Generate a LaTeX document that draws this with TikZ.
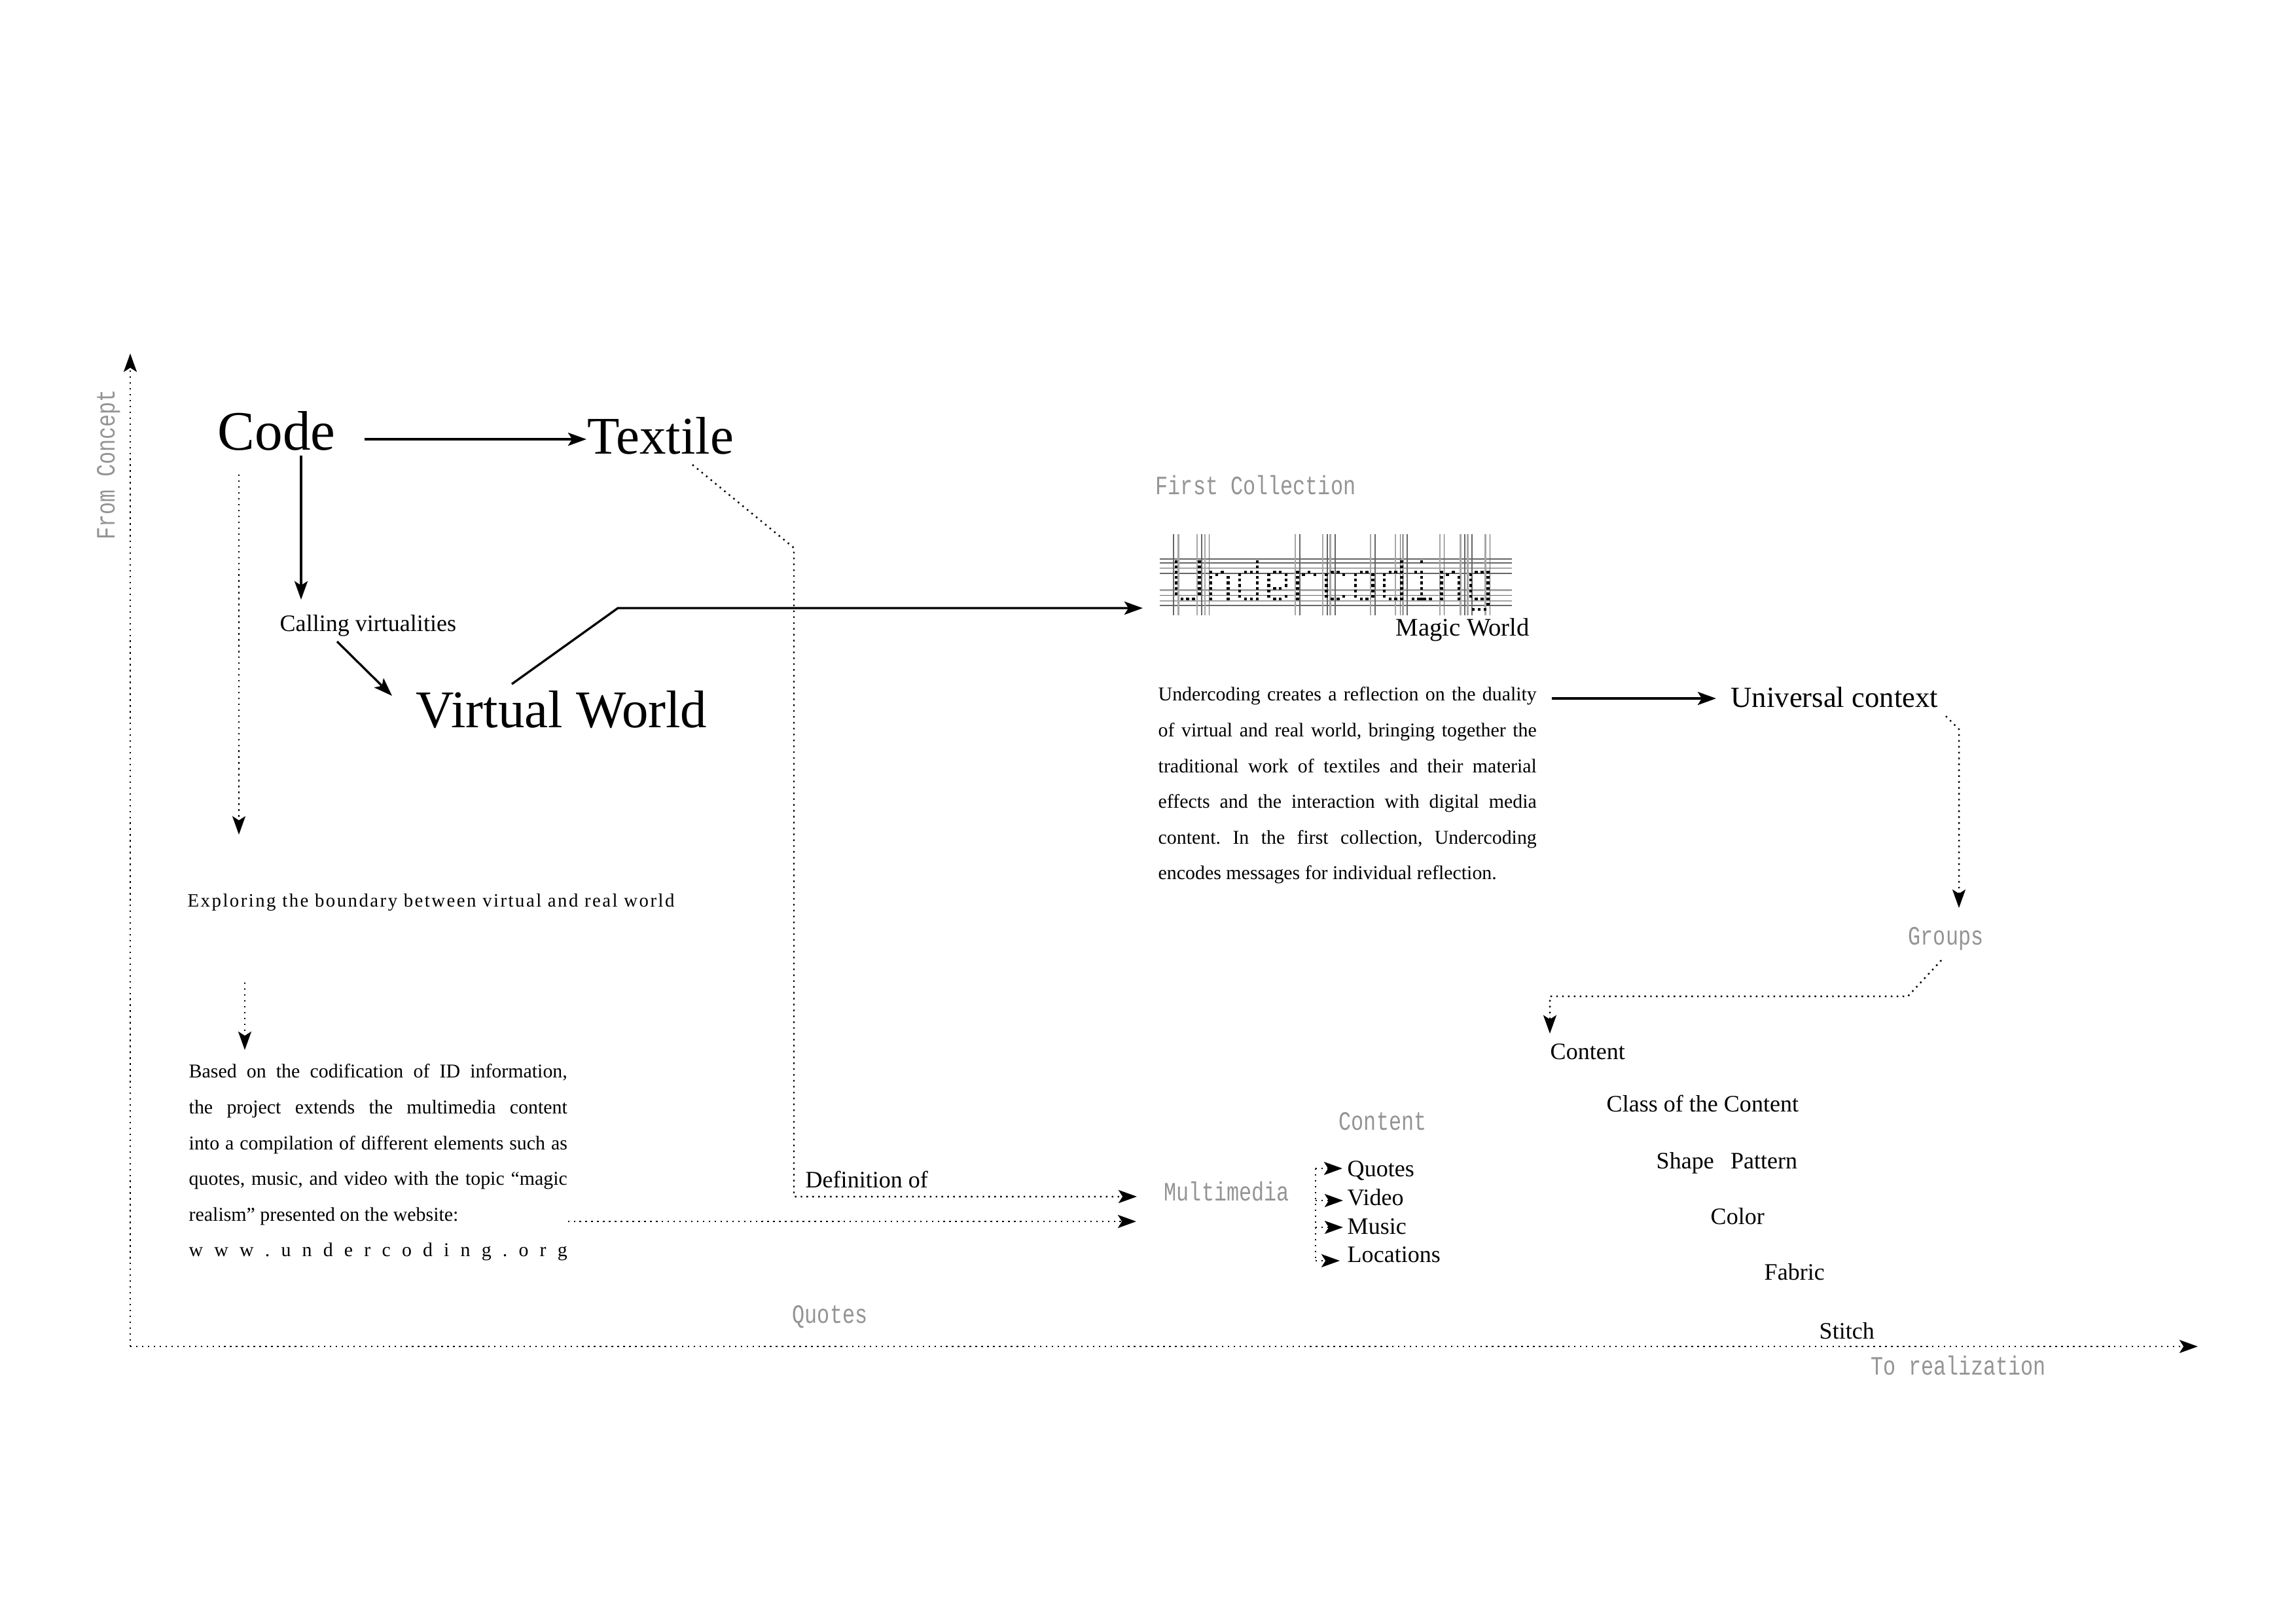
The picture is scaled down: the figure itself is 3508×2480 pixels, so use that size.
\documentclass[tikz,border=0pt]{standalone}
\usepackage{fontspec}
\setmainfont{Liberation Serif}
\newfontfamily\dotfont{Liberation Mono}
\usetikzlibrary{arrows.meta}
\newcommand{\dottext}[1]{\scalebox{1}[1.27]{\dotfont\fontsize{9.05pt}{11pt}\selectfont #1}}
\newcommand{\jline}[1]{\makebox[164.4pt][s]{#1}}
\newcommand{\dotcol}[2]{\foreach \r in {#2} {\fill ({#1-5.5},{\r-6.5}) rectangle ++(11,13);}}
\tikzset{
	lbl/.style={anchor=base west,inner sep=0pt,font=\fontsize{10.25pt}{12pt}\selectfont},
	bigword/.style={lbl,font=\fontsize{23pt}{26pt}\selectfont},
	midword/.style={lbl,font=\fontsize{12.7pt}{15pt}\selectfont},
	dotlbl/.style={anchor=base west,inner sep=0pt,text=black!42},
	para/.style={anchor=north west,inner sep=0pt,align=left,font=\fontsize{8.5pt}{15.53pt}\selectfont\frenchspacing},
	tip/.style={-{Stealth[length=8pt,width=5.7pt,inset=1.8pt]}},
	solidarrow/.style={tip,line width=0.95pt},
	dotline/.style={line width=0.7pt,dash pattern=on 0.7pt off 1.85pt},
	dotarrow/.style={dotline,tip},
	darkthread/.style={black!60,line width=0.45pt},
	lightthread/.style={black!35,line width=0.7pt},
}

\begin{document}
\begin{tikzpicture}[x=0.01cm,y=-0.01cm]
	\useasboundingbox (0,0) rectangle (3508,2480);

	\coordinate (O) at (199,2057);
	\coordinate (Xend) at (3358,2057);
	\coordinate (Yend) at (199,540);
	\coordinate (bendV) at (944,929);
	\coordinate (logoin) at (1746,929);
	\coordinate (bendT) at (1213,837);
	\coordinate (bendD) at (1213,1828);
	\coordinate (bendU) at (2993,1114);
	\coordinate (bendG) at (2915,1522);
	\coordinate (bendC) at (2368,1522);
	\coordinate (trunktop) at (2010,1785);
	\coordinate (trunkend) at (2010,1927);

	% left column
	\node[bigword,font=\fontsize{24.2pt}{26pt}\selectfont] (code) at (332,687) {Code};
	\node[bigword] (textile) at (897,693) {Textile};
	\node[lbl] (calling) at (427,964) {Calling virtualities};
	\node[bigword] (virtual) at (635,1111) {Virtual World};
	\node[lbl,font=\fontsize{8.2pt}{10pt}\selectfont\addfontfeature{LetterSpace=8.5}] (exploring) at (286,1385) {Exploring the boundary between virtual and real world};
	\node[para] (basedon) at (288,1625) {%
		\jline{Based on the codification of ID information,}\\
		\jline{the project extends the multimedia content}\\
		\jline{into a compilation of different elements such as}\\
		\jline{quotes, music, and video with the topic “magic}\\
		realism” presented on the website:\\
		\jline{w w w . u n d e r c o d i n g . o r g}};

	% middle column
	\node[lbl] (definition) at (1230,1814) {Definition of};
	\node[dotlbl] (quotesgrey) at (1210,2021) {\dottext{Quotes}};
	\node[dotlbl] (firstcoll) at (1765,755) {\dottext{First Collection}};
	\node[lbl,font=\fontsize{11pt}{13pt}\selectfont] (magic) at (2132,971) {Magic World};
	\node[para] (undercoding) at (1769,1049) {%
		\jline{Undercoding creates a reflection on the duality}\\
		\jline{of virtual and real world, bringing together the}\\
		\jline{traditional work of textiles and their material}\\
		\jline{effects and the interaction with digital media}\\
		\jline{content. In the first collection, Undercoding}\\
		encodes messages for individual reflection.};
	\node[dotlbl] (multimedia) at (1778,1834) {\dottext{Multimedia}};
	\node[dotlbl] (contentgrey) at (2045,1726) {\dottext{Content}};
	\node[lbl] (quotes) at (2058,1797) {Quotes};
	\node[lbl] (video) at (2058,1841) {Video};
	\node[lbl] (music) at (2058,1885) {Music};
	\node[lbl] (locations) at (2058,1928) {Locations};

	% right column
	\node[midword] (universal) at (2644,1080) {Universal context};
	\node[dotlbl] (groups) at (2915,1443) {\dottext{Groups}};
	\node[lbl] (content) at (2368,1618) {Content};
	\node[lbl] (class) at (2454,1698) {Class of the Content};
	\node[lbl] (shape) at (2530,1785) {Shape\hspace{0.7em}Pattern};
	\node[lbl] (color) at (2613,1870) {Color};
	\node[lbl] (fabric) at (2695,1955) {Fabric};
	\node[lbl] (stitch) at (2779,2045) {Stitch};

	% axes
	\node[dotlbl] (torealization) at (2858,2100) {\dottext{To realization}};
	\node[dotlbl,rotate=90] (fromconcept) at (175,825) {\dottext{From Concept}};
	\draw[dotarrow] (O) -- (Xend);
	\draw[dotarrow] (O) -- (Yend);

	% connectors
	\draw[solidarrow] ([shift={(225,-16)}]code.base west) -- ([shift={(-1,-22)}]textile.base west);
	\draw[solidarrow] ([shift={(128,9)}]code.base west) -- ([shift={(33,-48)}]calling.base west);
	\draw[solidarrow] ([shift={(88,16)}]calling.base west) -- ([shift={(-36,-48)}]virtual.base west);
	\draw[solidarrow] ([shift={(147,-66)}]virtual.base west) -- (bendV) -- (logoin);
	\draw[dotarrow] ([shift={(33,38)}]code.base west) -- ([shift={(79,-110)}]exploring.base west);
	\draw[dotarrow] ([shift={(88,116)}]exploring.base west) -- ([shift={(86,-21)}]basedon.north west);
	\draw[dotarrow] ([shift={(0,241)}]basedon.north east) -- ([shift={(-42,32)}]multimedia.base west);
	\draw[dotarrow] ([shift={(161,17)}]textile.base west) -- (bendT) -- (bendD) -- ([shift={(-41,-6)}]multimedia.base west);
	\draw[solidarrow] ([shift={(22,18)}]undercoding.north east) -- ([shift={(-22,-13)}]universal.base west);
	\draw[dotarrow] ([shift={(329,14)}]universal.base west) -- (bendU) -- ([shift={(78,-56)}]groups.base west);
	\draw[dotarrow] ([shift={(51,24)}]groups.base west) -- (bendG) -- (bendC) -- ([shift={(0,-39)}]content.base west);

	% multimedia list
	\coordinate (videotip) at ([shift={(-6,-7)}]video.base west);
	\coordinate (musictip) at ([shift={(-6,-10)}]music.base west);
	\coordinate (locationstip) at ([shift={(-11,-2)}]locations.base west);
	\draw[dotline] (trunktop) -- (trunkend);
	\draw[dotarrow] (trunktop) -- ([shift={(-7,-12)}]quotes.base west);
	\draw[dotarrow] (trunktop |- videotip) -- (videotip);
	\draw[dotarrow] (trunktop |- musictip) -- (musictip);
	\draw[dotarrow] (trunktop |- locationstip) -- (locationstip);

	% logo: thread grid and stitched letters
	\begin{scope}[shift={(1740,700)},xscale=0.408,yscale=0.333]
		\foreach \y in {463,481,528,629,676} {\draw[darkthread] (78,\y) -- (1397,\y);}
		\foreach \y in {504,605,654} {\draw[lightthread] (78,\y) -- (1397,\y);}
		\foreach \x in {130,235,263,603,706,735,885,979,1005,1143,1221,1248,1315} {\draw[darkthread] (\x,349) -- (\x,722);}
		\foreach \x in {148,218,248,586,689,717,867,961,989,1127,1205,1232,1298} {\draw[lightthread] (\x,349) -- (\x,722);}
		% U
		\dotcol{140}{475,498,523,547,572,597,621}
		\dotcol{227}{475,498,523,547,572,597,621}
		\foreach \x in {162,183,205} {\dotcol{\x}{645}}
		% n
		\dotcol{269}{523,547,572,597,621,645}
		\dotcol{291}{535}
		\dotcol{312}{523}
		\dotcol{334}{547,572,597,621,645}
		% d
		\dotcol{443}{475,498,523,547,572,597,621,645}
		\dotcol{378}{535,559,584,609,633}
		\foreach \x in {399,421} {\dotcol{\x}{523,645}}
		% e
		\dotcol{486}{535,559,584,609,633}
		\foreach \x in {508,529} {\dotcol{\x}{523,597,645}}
		\dotcol{551}{535,559,584,633}
		% r
		\dotcol{594}{523,547,572,597,621,645}
		\dotcol{616}{535}
		\dotcol{637}{523}
		\dotcol{659}{535}
		% c
		\dotcol{702}{535,559,584,609,633}
		\foreach \x in {724,746} {\dotcol{\x}{523,645}}
		\dotcol{767}{535,633}
		% o
		\dotcol{811}{535,559,584,609,633}
		\foreach \x in {833,854} {\dotcol{\x}{523,645}}
		\dotcol{876}{535,559,584,609,633}
		% d
		\dotcol{919}{535,559,584,609,633}
		\foreach \x in {941,962} {\dotcol{\x}{523,645}}
		\dotcol{984}{475,498,523,547,572,597,621,645}
		% i
		\dotcol{1059}{475,523,547,572,597,621,645}
		\dotcol{1037}{523}
		\foreach \x in {1027,1048,1070,1092} {\dotcol{\x}{645}}
		% n
		\dotcol{1134}{523,547,572,597,621,645}
		\dotcol{1156}{535}
		\dotcol{1178}{523}
		\dotcol{1199}{547,572,597,621,645}
		% g
		\dotcol{1242}{535,559,584,609,633}
		\foreach \x in {1264,1285} {\dotcol{\x}{523,645}}
		\dotcol{1307}{523,547,572,597,621,645,669}
		\foreach \x in {1253,1275,1297} {\dotcol{\x}{693}}
	\end{scope}
\end{tikzpicture}
\end{document}
